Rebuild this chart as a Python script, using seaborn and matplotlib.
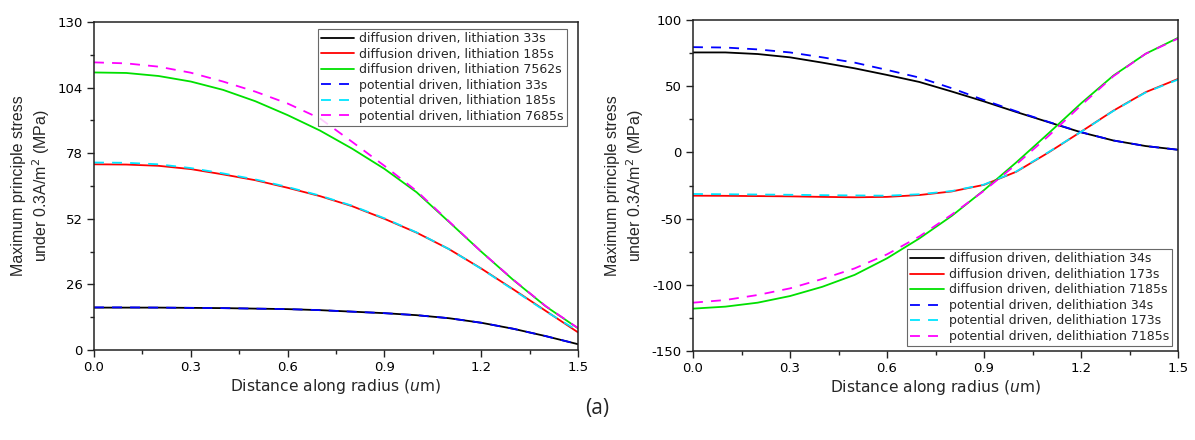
import numpy as np
import pandas as pd
import matplotlib
matplotlib.use("Agg")
import matplotlib.pyplot as plt
import seaborn as sns
from matplotlib.ticker import AutoMinorLocator

# ---------------- data ----------------
radius = [0.0, 0.1, 0.2, 0.3, 0.4, 0.5, 0.6, 0.7, 0.8, 0.9, 1.0, 1.1, 1.2, 1.3, 1.4, 1.5]

# lithiation (left panel)
lith_labels = ["diffusion driven, lithiation 33s",
               "diffusion driven, lithiation 185s",
               "diffusion driven, lithiation 7562s",
               "potential driven, lithiation 33s",
               "potential driven, lithiation 185s",
               "potential driven, lithiation 7685s"]
lith_diff_33 = [16.8, 16.8, 16.8, 16.7, 16.6, 16.4, 16.2, 15.8, 15.2, 14.6, 13.8, 12.6, 10.8, 8.4, 5.5, 2.3]
lith_diff_185 = [73.6, 73.5, 73.0, 71.7, 69.6, 67.3, 64.3, 61.0, 57.0, 52.0, 46.5, 40.0, 32.3, 24.0, 15.5, 7.0]
lith_diff_7562 = [110.0, 109.8, 108.6, 106.4, 103.1, 98.6, 93.1, 87.0, 79.8, 71.8, 62.5, 50.8, 39.0, 27.7, 17.3, 8.6]
lith_pot_33 = [16.9, 16.9, 16.8, 16.7, 16.6, 16.4, 16.2, 15.8, 15.2, 14.6, 13.8, 12.6, 10.8, 8.4, 5.5, 2.3]
lith_pot_185 = [74.3, 74.2, 73.6, 72.1, 70.0, 67.6, 64.6, 61.2, 57.2, 52.2, 46.6, 40.0, 32.2, 23.8, 15.3, 7.6]
lith_pot_7685 = [114.0, 113.6, 112.3, 109.9, 106.4, 102.4, 97.7, 91.8, 82.5, 73.0, 63.0, 51.0, 39.0, 27.8, 17.4, 8.7]

# delithiation (right panel)
delith_labels = ["diffusion driven, delithiation 34s",
                 "diffusion driven, delithiation 173s",
                 "diffusion driven, delithiation 7185s",
                 "potential driven, delithiation 34s",
                 "potential driven, delithiation 173s",
                 "potential driven, delithiation 7185s"]
delith_diff_34 = [75.5, 75.5, 74.3, 71.8, 67.8, 63.5, 58.5, 53.2, 46.0, 38.5, 30.5, 22.8, 15.2, 9.0, 4.8, 2.0]
delith_diff_173 = [-32.7, -32.8, -33.0, -33.2, -33.6, -33.9, -33.6, -32.2, -29.5, -24.5, -14.6, 0.0, 15.6, 31.5, 45.5, 55.5]
delith_diff_7185 = [-118.0, -116.5, -113.5, -108.5, -101.5, -92.5, -80.0, -65.0, -48.0, -28.5, -7.5, 14.5, 37.0, 58.0, 74.5, 86.5]
delith_pot_34 = [79.5, 79.2, 77.8, 75.5, 71.8, 67.8, 62.3, 56.5, 48.5, 39.5, 31.0, 23.0, 15.3, 9.0, 4.8, 2.0]
delith_pot_173 = [-31.4, -31.6, -31.8, -32.0, -32.3, -32.5, -32.7, -31.6, -29.2, -24.3, -14.4, 0.3, 15.5, 31.3, 45.3, 55.0]
delith_pot_7185 = [-113.5, -111.5, -107.7, -102.7, -95.6, -87.6, -77.0, -63.5, -47.0, -29.0, -9.0, 12.5, 35.5, 57.5, 74.5, 86.0]

x_ticks = [0.0, 0.3, 0.6, 0.9, 1.2, 1.5]
left_yticks = [0, 26, 52, 78, 104, 130]
right_yticks = [-150, -100, -50, 0, 50, 100]

colors = ["#000000", "#FF0000", "#00E000", "#0000FF", "#00E5FF", "#FF00FF"]

# ---------------- style ----------------
sns.set_style("white")
plt.rcParams["font.family"] = ["Liberation Sans", "DejaVu Sans"]
plt.rcParams["mathtext.fontset"] = "custom"
plt.rcParams["mathtext.rm"] = "DejaVu Sans"
plt.rcParams["mathtext.it"] = "DejaVu Sans:italic"
WIDE = ["DejaVu Sans"]

fig = plt.figure(figsize=(11.95, 4.4), dpi=100)
fig.patch.set_facecolor("white")
axL = fig.add_axes([94 / 1195, 1 - 350 / 440, (578 - 94) / 1195, (350 - 22) / 440])
axR = fig.add_axes([693 / 1195, 1 - 351 / 440, (1178 - 693) / 1195, (351 - 20) / 440])


def draw(ax, series, labels, yticks, legend_loc, anchor):
    for i, (vals, lab) in enumerate(zip(series, labels)):
        df = pd.DataFrame({"r": radius, "s": vals})
        ls = "-" if i < 3 else (0, (5.5, 4.5))
        sns.lineplot(data=df, x="r", y="s", ax=ax, color=colors[i], lw=1.3,
                     linestyle=ls, label=lab, legend=False)
    ax.set_xlim(0, 1.5)
    ax.set_ylim(yticks[0], yticks[-1])
    ax.set_xticks(x_ticks)
    ax.set_xticklabels([f"{t:.1f}" for t in x_ticks])
    ax.set_yticks(yticks)
    ax.set_yticklabels([str(t) for t in yticks])
    ax.xaxis.set_minor_locator(AutoMinorLocator(2))
    ax.yaxis.set_minor_locator(AutoMinorLocator(2))
    ax.tick_params(which="major", direction="out", length=5, width=1, colors="#222222",
                   labelsize=9.5, labelcolor="black", bottom=True, left=True, pad=3)
    ax.tick_params(which="minor", direction="out", length=3, width=1, colors="#222222",
                   bottom=True, left=True)
    for lab in ax.get_xticklabels() + ax.get_yticklabels():
        lab.set_family(WIDE)
    for sp in ax.spines.values():
        sp.set_visible(True)
        sp.set_color("#222222")
        sp.set_linewidth(1.1)
    ax.set_xlabel("Distance along radius ($\\mathit{u}$m)", fontsize=11.2, labelpad=2,
                  family=WIDE)
    ax.set_ylabel("Maximum principle stress\nunder 0.3A/m$^2$ (MPa)", fontsize=11.5,
                  labelpad=4, linespacing=1.25)
    leg = ax.legend(loc=legend_loc, frameon=True, fancybox=False,
                    prop={"family": WIDE, "size": 9.0}, handlelength=2.7,
                    handletextpad=0.4, borderpad=0.25, labelspacing=0.2,
                    borderaxespad=0.0, bbox_to_anchor=anchor,
                    bbox_transform=fig.transFigure)
    leg.get_frame().set_edgecolor("#444444")
    leg.get_frame().set_linewidth(0.8)


draw(axL,
     [lith_diff_33, lith_diff_185, lith_diff_7562, lith_pot_33, lith_pot_185, lith_pot_7685],
     lith_labels, left_yticks, "upper right", (567 / 1195, 1 - 29 / 440))
draw(axR,
     [delith_diff_34, delith_diff_173, delith_diff_7185, delith_pot_34, delith_pot_173, delith_pot_7185],
     delith_labels, right_yticks, "lower right", (1172 / 1195, 1 - 346 / 440))

fig.text(597 / 1195, 1 - 408 / 440, "(a)", ha="center", va="center", fontsize=15,
         family=["Open Sans", "DejaVu Sans"])

fig.savefig("out.png", dpi=100, facecolor="white")
